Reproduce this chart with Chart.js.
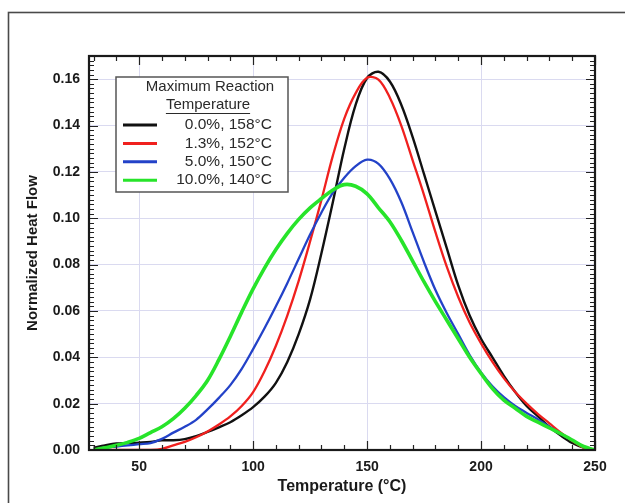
<!DOCTYPE html>
<html>
<head>
<meta charset="utf-8">
<script src="https://cdn.jsdelivr.net/npm/chart.js@4/dist/chart.umd.min.js"></script>
<style>
html,body{margin:0;padding:0;background:#fff;}
#wrap{width:625px;height:503px;position:relative;}
</style>
</head>
<body>
<div id="wrap"><canvas id="c"></canvas></div>
<script>
// ---- Data ----
const temps = [30,35,40,45,50,55,60,65,70,75,80,85,90,95,100,105,110,115,120,125,130,135,140,145,150,155,160,165,170,175,180,185,190,195,200,205,210,215,220,225,230,235,240,245,250];

const series0 = [0.001,0.002,0.0028,0.003,0.0032,0.0035,0.0042,0.0042,0.0047,0.006,0.0078,0.0098,0.012,0.015,0.0185,0.023,0.029,0.038,0.050,0.065,0.085,0.107,0.130,0.149,0.1605,0.1632,0.159,0.149,0.135,0.119,0.103,0.087,0.071,0.058,0.048,0.040,0.032,0.025,0.019,0.0145,0.010,0.0062,0.003,0.001,0];
const series13 = [0,0,0,0,0,0,0.0005,0.002,0.0035,0.0055,0.008,0.011,0.0145,0.019,0.025,0.034,0.045,0.058,0.073,0.090,0.108,0.127,0.143,0.154,0.1606,0.1598,0.152,0.140,0.125,0.110,0.094,0.079,0.066,0.055,0.046,0.038,0.031,0.025,0.020,0.0155,0.0115,0.0075,0.004,0.001,0];
const series50 = [0,0.001,0.0015,0.002,0.0025,0.003,0.0048,0.0075,0.010,0.013,0.0175,0.0225,0.028,0.035,0.0435,0.0525,0.062,0.072,0.0825,0.093,0.1025,0.111,0.1175,0.1225,0.1253,0.1235,0.117,0.107,0.094,0.081,0.069,0.059,0.050,0.041,0.0335,0.0275,0.0228,0.019,0.016,0.0132,0.010,0.007,0.0043,0.0015,0];
const series100 = [0,0.001,0.002,0.0033,0.005,0.0075,0.010,0.0135,0.018,0.0235,0.030,0.039,0.049,0.0595,0.0695,0.0785,0.0865,0.0935,0.0995,0.1045,0.1085,0.1122,0.1145,0.1138,0.1105,0.1045,0.0985,0.0905,0.0815,0.0725,0.064,0.056,0.048,0.040,0.033,0.0265,0.0215,0.018,0.0145,0.012,0.0095,0.007,0.0043,0.0015,0];

const seriesLabels = ['0.0%, 158\u00B0C','1.3%, 152\u00B0C','5.0%, 150\u00B0C','10.0%, 140\u00B0C'];
const legendTitle = ['Maximum Reaction','Temperature'];
const xTickValues = [50,100,150,200,250];
const yTickValues = [0,0.02,0.04,0.06,0.08,0.10,0.12,0.14,0.16];
const xTitle = 'Temperature (\u00B0C)';
const yTitle = 'Normalized Heat Flow';

// ---- build chart ----
const toPts = arr => temps.map((t,i)=>({x:t,y:arr[i]}));
const colors = ['#111111','#f0201e','#2342c8','#27e42a'];
const widths = [2.4,2.3,2.3,3.6];
const allSeries = [series0,series13,series50,series100];

const datasets = allSeries.map((s,i)=>({
  label: seriesLabels[i],
  data: toPts(s),
  borderColor: colors[i],
  backgroundColor: colors[i],
  borderWidth: widths[i],
  pointRadius: 0,
  tension: 0.35,
  fill: false
})).reverse();

const FONT = '"Liberation Sans", Arial, Helvetica, sans-serif';

const framePlugin = {
  id: 'frame',
  beforeDraw(chart){
    const ctx = chart.ctx;
    ctx.save();
    ctx.fillStyle = '#fff';
    ctx.fillRect(0,0,chart.width,chart.height);
    ctx.strokeStyle = '#4a4a4a';
    ctx.lineWidth = 1.6;
    ctx.strokeRect(8.5, 12.5, chart.width + 20, chart.height + 20);
    ctx.restore();
  }
};

const ticksPlugin = {
  id: 'boxTicks',
  afterDatasetsDraw(chart, args, opts){
    const ctx = chart.ctx;
    const a = chart.chartArea;
    const xs = chart.scales.x, ys = chart.scales.y;
    ctx.save();
    ctx.strokeStyle = '#222';
    ctx.lineWidth = 1.2;
    ctx.beginPath();
    for (let v = opts.xMinorStart; v <= xs.max + 1e-9; v += opts.xMinor){
      const px = Math.round(xs.getPixelForValue(v)) + 0.5;
      const major = Math.abs(v % opts.xMajor) < 1e-6;
      const len = major ? 9 : 5;
      ctx.moveTo(px, a.bottom); ctx.lineTo(px, a.bottom - len);
      ctx.moveTo(px, a.top); ctx.lineTo(px, a.top + len);
    }
    const n = Math.round((ys.max - ys.min) / opts.yMinor);
    for (let i = 0; i <= n; i++){
      const v = ys.min + i * opts.yMinor;
      const py = Math.round(ys.getPixelForValue(v)) + 0.5;
      const major = i % opts.yMajorEvery === 0;
      const len = major ? 9 : 5;
      ctx.moveTo(a.left, py); ctx.lineTo(a.left + len, py);
      ctx.moveTo(a.right, py); ctx.lineTo(a.right - len, py);
    }
    ctx.stroke();
    ctx.lineWidth = 2.2;
    ctx.strokeStyle = '#1a1a1a';
    ctx.strokeRect(a.left, a.top, a.right - a.left, a.bottom - a.top);
    ctx.restore();
  }
};

const legendPlugin = {
  id: 'boxLegend',
  afterDraw(chart){
    const ctx = chart.ctx;
    const x0 = 116, y0 = 77, w = 172, h = 115;
    ctx.save();
    ctx.fillStyle = '#fff';
    ctx.fillRect(x0, y0, w, h);
    ctx.strokeStyle = '#555';
    ctx.lineWidth = 1.5;
    ctx.strokeRect(x0, y0, w, h);
    ctx.fillStyle = '#2a2a2a';
    ctx.font = '15px ' + FONT;
    ctx.textAlign = 'center';
    ctx.textBaseline = 'middle';
    ctx.fillText(legendTitle[0], 210, 87);
    ctx.fillText(legendTitle[1], 208, 105);
    const tw = ctx.measureText(legendTitle[1]).width;
    ctx.strokeStyle = '#2a2a2a';
    ctx.lineWidth = 1;
    ctx.beginPath();
    ctx.moveTo(208 - tw/2, 113.5); ctx.lineTo(208 + tw/2, 113.5);
    ctx.stroke();
    ctx.font = '15.5px ' + FONT;
    const ds = chart.data.datasets.slice().reverse();
    ds.forEach((d, i) => {
      const y = 125 + i * 18.4;
      ctx.strokeStyle = d.borderColor;
      ctx.lineWidth = 3;
      ctx.beginPath();
      ctx.moveTo(123, y); ctx.lineTo(157, y);
      ctx.stroke();
      ctx.fillStyle = '#2a2a2a';
      ctx.textAlign = 'right';
      ctx.fillText(d.label, 272, y);
    });
    ctx.restore();
  }
};

new Chart(document.getElementById('c'), {
  type: 'line',
  data: { datasets },
  plugins: [framePlugin, ticksPlugin, legendPlugin],
  options: {
    responsive: true,
    maintainAspectRatio: false,
    animation: false,
    events: [],
    layout: { padding: { top: 56, right: 30, left: 0, bottom: 0 } },
    plugins: {
      legend: { display: false },
      tooltip: { enabled: false },
      boxTicks: { xMinor: 10, xMinorStart: 30, xMajor: 50, yMinor: 0.002, yMajorEvery: 10 }
    },
    scales: {
      x: {
        type: 'linear',
        min: 28, max: 250,
        afterBuildTicks(scale){ scale.ticks = xTickValues.map(v => ({value: v})); },
        afterFit(scale){ scale.height = 53; },
        grid: { color: '#dadaf0', lineWidth: 1, drawTicks: false },
        border: { display: false },
        ticks: { padding: 9, color: '#1a1a1a', font: { family: FONT, size: 14, weight: 'bold' }, maxRotation: 0 },
        title: { display: true, text: xTitle, color: '#1a1a1a', font: { family: FONT, size: 16, weight: 'bold' }, padding: { top: 0, bottom: 7 } }
      },
      y: {
        min: 0, max: 0.17,
        afterBuildTicks(scale){ scale.ticks = yTickValues.map(v => ({value: v})); },
        afterFit(scale){ scale.width = 89; },
        grid: { color: '#dadaf0', lineWidth: 1, drawTicks: false },
        border: { display: false },
        ticks: { padding: 9, color: '#1a1a1a', font: { family: FONT, size: 14, weight: 'bold' }, callback: v => v.toFixed(2) },
        title: { display: true, text: yTitle, color: '#1a1a1a', font: { family: FONT, size: 15, weight: 'bold' }, padding: { top: 24, bottom: 0 } }
      }
    }
  }
});
</script>
</body>
</html>
